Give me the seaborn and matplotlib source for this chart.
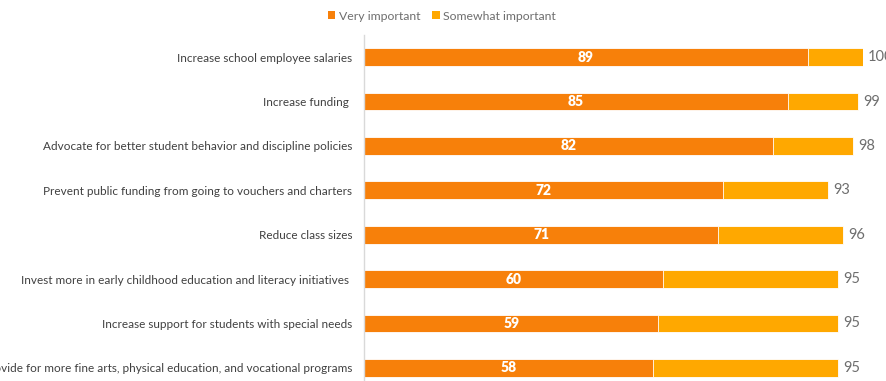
import matplotlib
matplotlib.use("Agg")
import matplotlib.pyplot as plt
from matplotlib.patches import Patch
import seaborn as sns
import pandas as pd

categories = [
    "Increase school employee salaries",
    "Increase funding ",
    "Advocate for better student behavior and discipline policies",
    "Prevent public funding from going to vouchers and charters",
    "Reduce class sizes",
    "Invest more in early childhood education and literacy initiatives ",
    "Increase support for students with special needs",
    "Provide for more fine arts, physical education, and vocational programs",
]
very_important = [89, 85, 82, 72, 71, 60, 59, 58]
total_important = [100, 99, 98, 93, 96, 95, 95, 95]
series_names = ["Very important", "Somewhat important"]

DARK = "#F7800A"
LIGHT = "#FFA800"
GRAY = "#6E6E6E"

sns.set_theme(style="white")
plt.rcParams["font.family"] = ["Lato", "DejaVu Sans"]

df = pd.DataFrame({"item": categories, "very": very_important, "total": total_important})

fig = plt.figure(figsize=(8.87, 3.81), dpi=100)
ax = fig.add_axes([364 / 887, 1 - 390 / 381, 499 / 887, 355 / 381])

sns.barplot(data=df, y="item", x="total", color=LIGHT, orient="h", width=0.4,
            saturation=1, edgecolor="white", linewidth=0.6, ax=ax)
sns.barplot(data=df, y="item", x="very", color=DARK, orient="h", width=0.4,
            saturation=1, edgecolor="white", linewidth=0.6, ax=ax)

ax.set_xlim(0, 100)
ax.set_ylim(7.5, -0.5)
ax.set_xlabel("")
ax.set_ylabel("")
ax.set_xticks([])
ax.tick_params(axis="y", length=0, pad=8.5, labelsize=8.5, labelcolor="#404040")
for s in ["top", "right", "bottom"]:
    ax.spines[s].set_visible(False)
ax.spines["left"].set_color("#D9D9D9")
ax.spines["left"].set_linewidth(1)

for i, (v, t) in enumerate(zip(very_important, total_important)):
    ax.text(v / 2, i, str(v), ha="center", va="center", color="white",
            fontsize=10, fontweight="heavy")
    ax.text(t + 1, i, str(t), ha="left", va="center", color=GRAY,
            fontsize=10.5, clip_on=False)

handles = [Patch(facecolor=DARK, edgecolor="none"), Patch(facecolor=LIGHT, edgecolor="none")]
fig.legend(handles, series_names, loc="center", bbox_to_anchor=(442 / 887, 1 - 16 / 381),
           ncol=2, frameon=False, fontsize=8.8, labelcolor=GRAY, handlelength=0.6,
           handleheight=0.6, handletextpad=0.3, columnspacing=1.0)

fig.savefig("out.png", dpi=100)
